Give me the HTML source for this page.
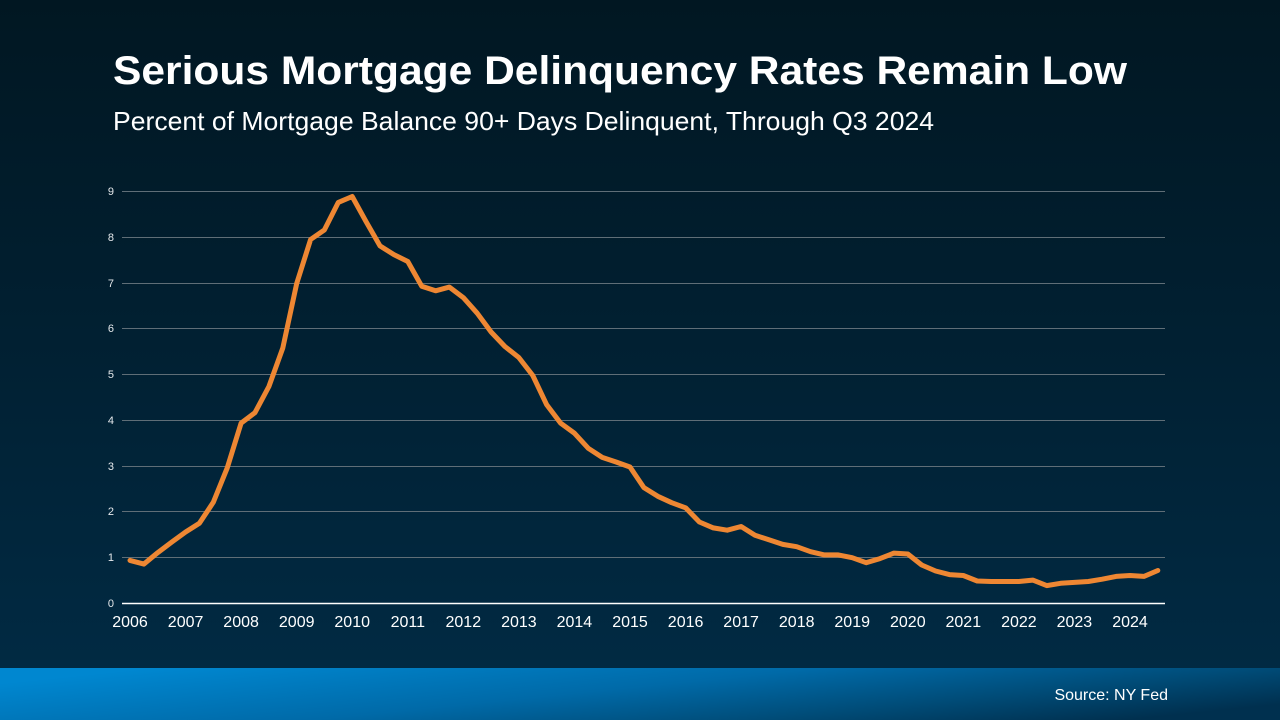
<!DOCTYPE html>
<html>
<head>
<meta charset="utf-8">
<style>
  html,body{margin:0;padding:0;width:1280px;height:720px;overflow:hidden;background:#01192a;}
  svg{display:block;}
  text{font-family:"Liberation Sans",Arial,sans-serif;}
</style>
</head>
<body>
<svg width="1280" height="720" viewBox="0 0 1280 720" xmlns="http://www.w3.org/2000/svg">
  <defs>
    <linearGradient id="bg" x1="0" y1="0" x2="0" y2="1">
      <stop offset="0" stop-color="#011722"/>
      <stop offset="0.45" stop-color="#011f30"/>
      <stop offset="1" stop-color="#012a43"/>
    </linearGradient>
    <linearGradient id="bar" x1="0" y1="0.3" x2="1" y2="0.7">
      <stop offset="0" stop-color="#0087d0"/>
      <stop offset="0.45" stop-color="#006aa8"/>
      <stop offset="0.75" stop-color="#004c78"/>
      <stop offset="1" stop-color="#00304f"/>
    </linearGradient>
  </defs>
  <rect x="0" y="0" width="1280" height="668" fill="url(#bg)"/>
  <rect x="0" y="668" width="1280" height="52" fill="url(#bar)"/>

  <text x="113" y="84" font-size="40" font-weight="bold" fill="#ffffff" textLength="1014" lengthAdjust="spacingAndGlyphs">Serious Mortgage Delinquency Rates Remain Low</text>
  <text x="113" y="130" font-size="26" fill="#ffffff" textLength="821" lengthAdjust="spacingAndGlyphs">Percent of Mortgage Balance 90+ Days Delinquent, Through Q3 2024</text>

  <g stroke="#5f6e77" stroke-width="1">
    <line x1="122" y1="191.5" x2="1165" y2="191.5"/>
    <line x1="122" y1="237.5" x2="1165" y2="237.5"/>
    <line x1="122" y1="283.5" x2="1165" y2="283.5"/>
    <line x1="122" y1="328.5" x2="1165" y2="328.5"/>
    <line x1="122" y1="374.5" x2="1165" y2="374.5"/>
    <line x1="122" y1="420.5" x2="1165" y2="420.5"/>
    <line x1="122" y1="466.5" x2="1165" y2="466.5"/>
    <line x1="122" y1="511.5" x2="1165" y2="511.5"/>
    <line x1="122" y1="557.5" x2="1165" y2="557.5"/>
  </g>
  <line x1="122" y1="603.5" x2="1165" y2="603.5" stroke="#ffffff" stroke-width="1.5"/>

  <g font-size="11" fill="#e6e9ec" text-anchor="end">
    <text x="114" y="195">9</text>
    <text x="114" y="241">8</text>
    <text x="114" y="287">7</text>
    <text x="114" y="332">6</text>
    <text x="114" y="378">5</text>
    <text x="114" y="424">4</text>
    <text x="114" y="470">3</text>
    <text x="114" y="515">2</text>
    <text x="114" y="561">1</text>
    <text x="114" y="607">0</text>
  </g>

  <g font-size="16" fill="#ffffff" text-anchor="middle">
    <text x="130" y="627">2006</text>
    <text x="185.6" y="627">2007</text>
    <text x="241.1" y="627">2008</text>
    <text x="296.7" y="627">2009</text>
    <text x="352.2" y="627">2010</text>
    <text x="407.8" y="627">2011</text>
    <text x="463.3" y="627">2012</text>
    <text x="518.9" y="627">2013</text>
    <text x="574.4" y="627">2014</text>
    <text x="630" y="627">2015</text>
    <text x="685.6" y="627">2016</text>
    <text x="741.1" y="627">2017</text>
    <text x="796.7" y="627">2018</text>
    <text x="852.2" y="627">2019</text>
    <text x="907.8" y="627">2020</text>
    <text x="963.3" y="627">2021</text>
    <text x="1018.9" y="627">2022</text>
    <text x="1074.4" y="627">2023</text>
    <text x="1130" y="627">2024</text>
  </g>

  <polyline fill="none" stroke="#ee8733" stroke-width="5" stroke-linejoin="round" stroke-linecap="round"
    points="130.0,560.4 143.9,564.1 157.8,552.6 171.7,542.1 185.6,532.0 199.4,523.3 213.3,502.3 227.2,468.0 241.1,423.1 255.0,412.6 268.9,386.5 282.8,348.0 296.7,283.5 310.6,239.5 324.4,229.9 338.3,202.4 352.2,196.5 366.1,221.7 380.0,245.9 393.9,254.6 407.8,261.5 421.7,286.2 435.6,290.8 449.4,287.1 463.3,297.6 477.2,313.2 491.1,332.0 505.0,346.6 518.9,357.6 532.8,375.5 546.7,404.8 560.6,423.1 574.4,433.2 588.3,448.3 602.2,457.4 616.1,462.0 630.0,467.0 643.9,487.6 657.8,496.3 671.7,502.7 685.6,507.8 699.4,522.0 713.3,527.9 727.2,530.2 741.1,526.5 755.0,535.2 768.9,539.8 782.8,544.4 796.7,546.7 810.6,551.7 824.4,554.9 838.3,554.9 852.2,557.7 866.1,562.7 880.0,558.6 893.9,553.1 907.8,554.0 921.7,565.0 935.6,571.0 949.4,574.6 963.3,575.5 977.2,581.0 991.1,581.5 1005.0,581.5 1018.9,581.5 1032.8,580.1 1046.7,585.6 1060.6,583.3 1074.4,582.4 1088.3,581.5 1102.2,579.2 1116.1,576.4 1130.0,575.5 1143.9,576.4 1157.8,570.5"/>

  <text x="1168" y="700" font-size="16" fill="#ffffff" text-anchor="end">Source: NY Fed</text>
</svg>
</body>
</html>
